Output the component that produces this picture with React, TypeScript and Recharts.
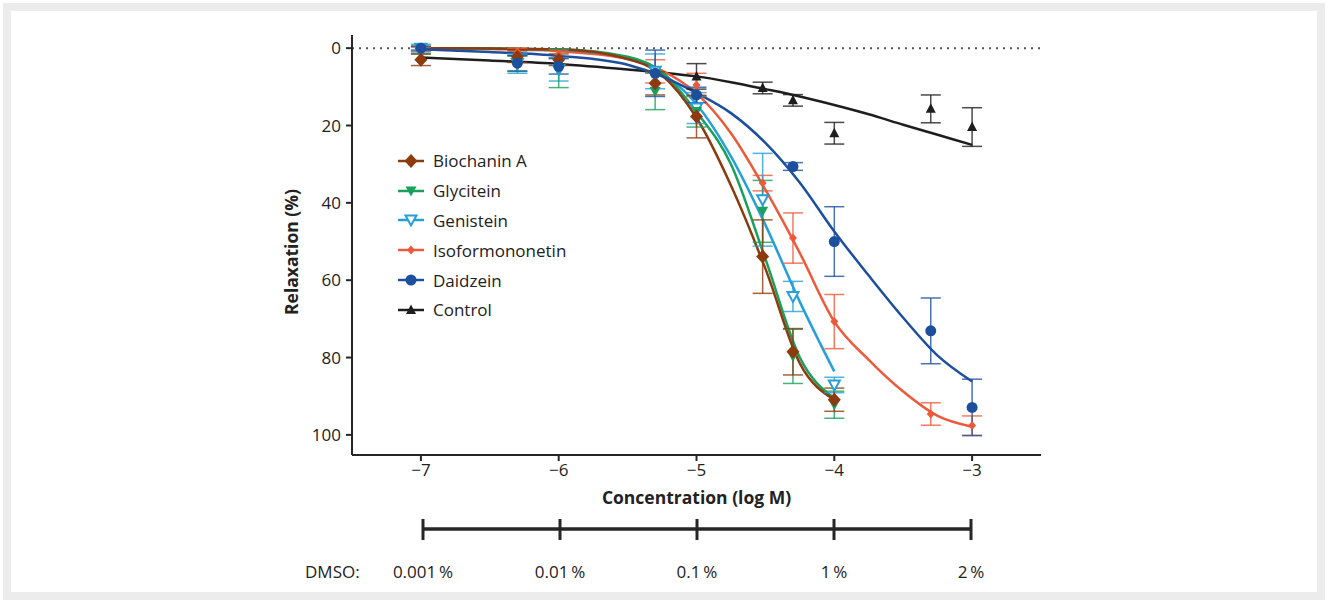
import { ComposedChart, ErrorBar, Label, Line, LineChart, ReferenceLine, Scatter, XAxis, YAxis } from 'recharts';

const FONT = '"Open Sans", sans-serif';
const INK = '#262626';

// log M concentrations where measurements were taken
const DOSES = [-7, -6.3, -6, -5.3, -5, -4.52, -4.3, -4, -3.3, -3];

const BIOCHANIN_MEAN = [3, 2.2, 3, 9.1, 17.7, 53.9, 78.5, 90.9, null, null];
const BIOCHANIN_SEM = [1.5, 1.5, 1.5, 3, 5.5, 9.5, 6, 3, null, null];
const GLYCITEIN_MEAN = [0.5, 4, 5.2, 11.2, 16.4, 42.2, 79.7, 92.2, null, null];
const GLYCITEIN_SEM = [1, 2, 5, 4.7, 4, 8, 7, 3.5, null, null];
const GENISTEIN_MEAN = [0, 4, 5.5, 6, 15.5, 39.2, 64.2, 87.1, null, null];
const GENISTEIN_SEM = [1, 2.5, 3, 4.5, 4, 12, 3.9, 2, null, null];
const ISOFORM_MEAN = [0.3, 1, 1.5, 6, 9.5, 34.9, 49.1, 70.7, 94.6, 97.6];
const ISOFORM_SEM = [0.5, 1, 1, 3, 3, 2, 6.5, 7, 2.9, 2.5];
const DAIDZEIN_MEAN = [0, 3.9, 4.7, 6.5, 12.1, null, 30.6, 50, 73.1, 92.9];
const DAIDZEIN_SEM = [0.5, 2, 2, 6, 2, null, 1, 9, 8.5, 7.3];
const CONTROL_MEAN = [null, null, null, null, 7.3, 10.3, 13.5, 22, 15.7, 20.4];
const CONTROL_SEM = [null, null, null, null, 3.3, 1.5, 1.5, 2.8, 3.6, 5];

// fitted curves
const FIT_X = [-7, -6.5, -6, -5.5, -5.25, -5, -4.75, -4.5, -4.25, -4, -3.75, -3.5, -3.25, -3];
const BIOCHANIN_FIT = [0, 0.1, 0.3, 2.8, 7, 18, 35.5, 57, 81.5, 90.9];
const GLYCITEIN_FIT = [0, 0.1, 0.3, 2.2, 6.2, 16.5, 30, 54.5, 80, 90.5];
const GENISTEIN_FIT = [0, 0.1, 0.4, 2.5, 6.5, 14.5, 28, 45.7, 65.6, 83.6];
const ISOFORM_FIT = [0, 0.2, 0.8, 2.8, 5.8, 11.7, 22, 36.6, 53, 70.7, 80.6, 88.8, 95.1, 97.9];
const DAIDZEIN_FIT = [0.3, 1, 2, 4.3, 7.3, 11.6, 16.8, 24.5, 34.8, 47.4, 58.8, 69.7, 79.5, 86.2];
const CONTROL_FIT = [2.4, 3.2, 4.1, 5.5, 6.3, 7.3, 8.8, 10.6, 12.5, 14.7, 17.1, 19.8, 22.4, 25];

const X_TICKS = [-7, -6, -5, -4, -3];
const Y_TICKS = [0, 20, 40, 60, 80, 100];

const DMSO_X = [-7, -6, -5, -4, -3];
const DMSO_LABELS = ['0.001\u2009%', '0.01\u2009%', '0.1\u2009%', '1\u2009%', '2\u2009%'];

type Kind = 'diamond' | 'triDown' | 'triDownOpen' | 'smallDiamond' | 'circle' | 'triUp';

const SERIES: { name: string; color: string; kind: Kind; mean: (number | null)[]; sem: (number | null)[]; fit: number[] }[] = [
  { name: 'Control', color: '#1e1e1e', kind: 'triUp', mean: CONTROL_MEAN, sem: CONTROL_SEM, fit: CONTROL_FIT },
  { name: 'Isoformononetin', color: '#ec5a3b', kind: 'smallDiamond', mean: ISOFORM_MEAN, sem: ISOFORM_SEM, fit: ISOFORM_FIT },
  { name: 'Genistein', color: '#269fd8', kind: 'triDownOpen', mean: GENISTEIN_MEAN, sem: GENISTEIN_SEM, fit: GENISTEIN_FIT },
  { name: 'Glycitein', color: '#18a05c', kind: 'triDown', mean: GLYCITEIN_MEAN, sem: GLYCITEIN_SEM, fit: GLYCITEIN_FIT },
  { name: 'Biochanin A', color: '#8c3b0e', kind: 'diamond', mean: BIOCHANIN_MEAN, sem: BIOCHANIN_SEM, fit: BIOCHANIN_FIT },
  { name: 'Daidzein', color: '#1d4f9f', kind: 'circle', mean: DAIDZEIN_MEAN, sem: DAIDZEIN_SEM, fit: DAIDZEIN_FIT },
];

const LEGEND_ORDER = ['Biochanin A', 'Glycitein', 'Genistein', 'Isoformononetin', 'Daidzein', 'Control'];

function Marker({ kind, cx, cy, color }: { kind: Kind; cx: number; cy: number; color: string }) {
  switch (kind) {
    case 'diamond':
      return <path d={`M${cx},${cy - 7}L${cx + 6.5},${cy}L${cx},${cy + 7}L${cx - 6.5},${cy}Z`} fill={color} />;
    case 'smallDiamond':
      return <path d={`M${cx},${cy - 4.5}L${cx + 4},${cy}L${cx},${cy + 4.5}L${cx - 4},${cy}Z`} fill={color} />;
    case 'triDown':
      return <path d={`M${cx - 5.5},${cy - 4.5}L${cx + 5.5},${cy - 4.5}L${cx},${cy + 5.5}Z`} fill={color} />;
    case 'triDownOpen':
      return (
        <path
          d={`M${cx - 5.5},${cy - 4.5}L${cx + 5.5},${cy - 4.5}L${cx},${cy + 5.5}Z`}
          fill="#fff"
          stroke={color}
          strokeWidth={2}
        />
      );
    case 'circle':
      return <circle cx={cx} cy={cy} r={5.5} fill={color} />;
    case 'triUp':
      return <path d={`M${cx},${cy - 5.5}L${cx + 5},${cy + 4}L${cx - 5},${cy + 4}Z`} fill={color} />;
  }
}

function toPoints(mean: (number | null)[], sem: (number | null)[]) {
  return DOSES.map((x, i) => ({ x, y: mean[i], err: sem[i] })).filter((p) => p.y != null);
}

function toCurve(fit: number[]) {
  return fit.map((y, i) => ({ x: FIT_X[i], y }));
}

function LegendBox() {
  return (
    <div style={{ position: 'absolute', left: 396, top: 146, fontFamily: FONT, fontSize: 17, color: '#222' }}>
      {LEGEND_ORDER.map((name) => {
        const s = SERIES.find((d) => d.name === name)!;
        return (
          <div key={name} style={{ display: 'flex', alignItems: 'center', height: 29.8 }}>
            <svg width={34} height={16} style={{ marginRight: 3 }}>
              <line x1={2} y1={8} x2={28} y2={8} stroke={s.color} strokeWidth={2.5} />
              <Marker kind={s.kind} cx={15} cy={8} color={s.color} />
            </svg>
            <span>{name}</span>
          </div>
        );
      })}
    </div>
  );
}

function DmsoTick(props: any) {
  const { cx, cy, index } = props;
  return (
    <g>
      <line x1={cx} y1={cy - 10} x2={cx} y2={cy + 11} stroke={INK} strokeWidth={3} />
      <text x={cx} y={cy + 42} textAnchor="middle" dominantBaseline="central" fontFamily={FONT} fontSize={17} fill="#222">
        {DMSO_LABELS[index]}
      </text>
    </g>
  );
}

export default function App() {
  return (
    <div style={{ position: 'absolute', left: 0, top: 0, width: 1328, height: 603, background: '#fff' }}>
      <div
        style={{
          position: 'absolute',
          left: 3,
          top: 3,
          width: 1322,
          height: 597,
          border: '8px solid #ececec',
          boxSizing: 'border-box',
        }}
      />
      <div style={{ position: 'absolute', left: 0, top: 0 }}>
        <ComposedChart width={1328} height={603} margin={{ top: 35, right: 287, left: 292, bottom: 108 }}>
          <XAxis
            type="number"
            dataKey="x"
            domain={[-7.5, -2.5]}
            ticks={X_TICKS}
            tickFormatter={(v: number) => `\u2212${Math.abs(v)}`}
            height={40}
            axisLine={{ stroke: INK, strokeWidth: 2 }}
            tickLine={{ stroke: INK, strokeWidth: 2 }}
            tickSize={6}
            tickMargin={3}
            tick={{ fill: '#222', fontSize: 17, fontFamily: FONT }}
            allowDataOverflow
          >
            <Label
              value="Concentration (log M)"
              position="bottom"
              offset={-3}
              style={{ fontFamily: FONT, fontSize: 17.5, fontWeight: 700, fill: '#222' }}
            />
          </XAxis>
          <YAxis
            type="number"
            dataKey="y"
            domain={[-3.4, 105.2]}
            reversed
            ticks={Y_TICKS}
            width={60}
            axisLine={{ stroke: INK, strokeWidth: 2 }}
            tickLine={{ stroke: INK, strokeWidth: 2 }}
            tickSize={6}
            tickMargin={5}
            tick={{ fill: '#222', fontSize: 17, fontFamily: FONT }}
            allowDataOverflow
          >
            <Label
              content={({ viewBox }: any) => {
                const cx = viewBox.x - 1;
                const cy = viewBox.y + viewBox.height / 2 + 7;
                return (
                  <text
                    x={cx}
                    y={cy}
                    transform={`rotate(-90 ${cx} ${cy})`}
                    textAnchor="middle"
                    dominantBaseline="central"
                    fontFamily={FONT}
                    fontSize={17.5}
                    fontWeight={700}
                    fill="#222"
                  >
                    Relaxation (%)
                  </text>
                );
              }}
            />
          </YAxis>
          <ReferenceLine y={0} stroke="#555" strokeWidth={2} strokeDasharray="2 5" />
          {SERIES.map((s) => (
            <Line
              key={`fit-${s.name}`}
              data={toCurve(s.fit)}
              dataKey="y"
              type="monotone"
              stroke={s.color}
              strokeWidth={2.5}
              dot={false}
              activeDot={false}
              isAnimationActive={false}
            />
          ))}
          {SERIES.map((s) => (
            <Scatter
              key={`pts-${s.name}`}
              data={toPoints(s.mean, s.sem)}
              dataKey="y"
              isAnimationActive={false}
              shape={(p: any) => <Marker kind={s.kind} cx={p.cx} cy={p.cy} color={s.color} />}
            >
              <ErrorBar dataKey="err" direction="y" width={10} stroke={s.color} strokeWidth={1.5} strokeOpacity={0.8} />
            </Scatter>
          ))}
        </ComposedChart>
      </div>
      <LegendBox />
      <div style={{ position: 'absolute', left: 0, top: 500 }}>
        <LineChart
          width={1328}
          height={100}
          data={DMSO_X.map((x) => ({ x, y: 0 }))}
          margin={{ top: 0, right: 357, left: 423, bottom: 42 }}
        >
          <XAxis type="number" dataKey="x" domain={[-7, -3]} hide />
          <YAxis type="number" domain={[-1, 1]} hide />
          <Line dataKey="y" stroke={INK} strokeWidth={3.5} dot={<DmsoTick />} activeDot={false} isAnimationActive={false} />
        </LineChart>
      </div>
      <div
        style={{
          position: 'absolute',
          left: 305,
          top: 560,
          fontFamily: FONT,
          fontSize: 17,
          color: '#222',
        }}
      >
        DMSO:
      </div>
    </div>
  );
}
